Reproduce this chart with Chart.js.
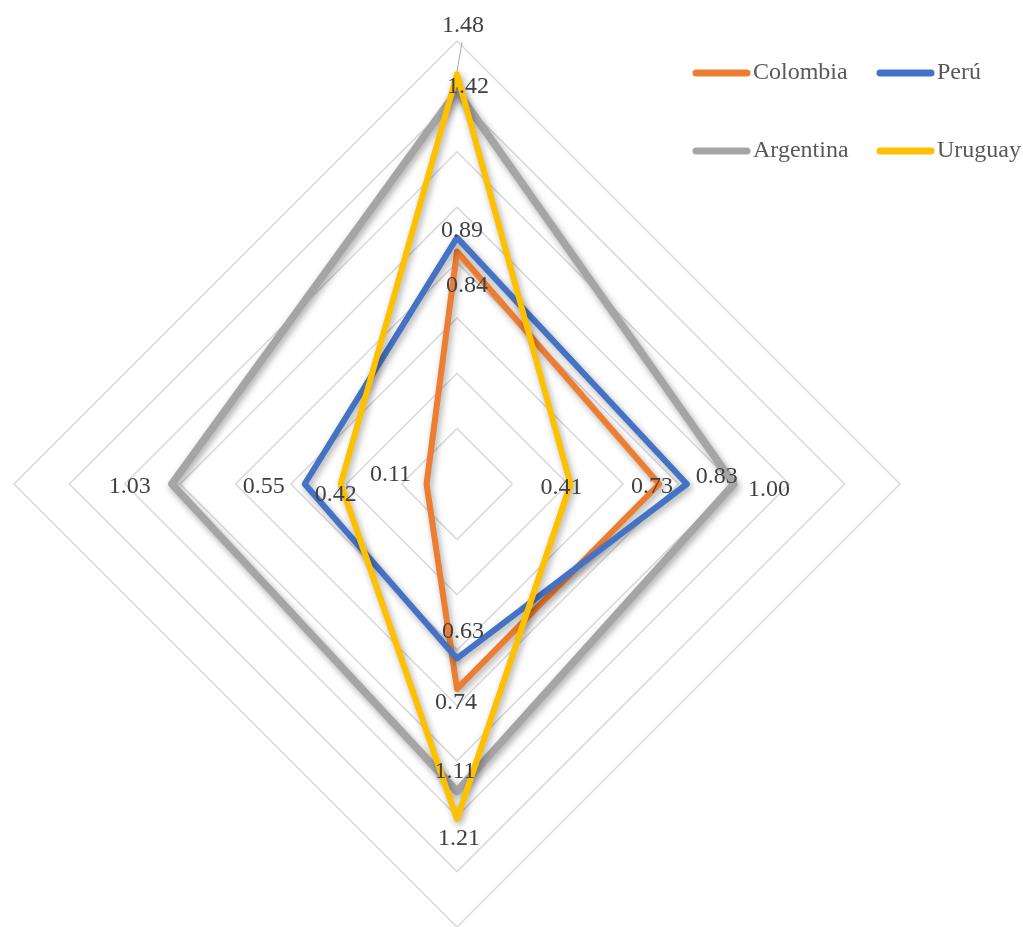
<!DOCTYPE html>
<html>
<head>
<meta charset="utf-8">
<script src="https://cdn.jsdelivr.net/npm/chart.js@4/dist/chart.umd.min.js"></script>
<style>
  html, body { margin: 0; padding: 0; background: #ffffff; }
  #wrap { width: 1023px; height: 927px; position: relative; }
</style>
</head>
<body>
<div id="wrap"><canvas id="radar" width="1023" height="927"></canvas></div>
<script>
// Axes run clockwise from the top: I (top), II (right), III (bottom), IV (left)
const categories = ['I', 'II', 'III', 'IV'];
const seriesNames = ['Colombia', 'Perú', 'Argentina', 'Uruguay'];
const colombia = [0.84, 0.73, 0.74, 0.11];
const peru = [0.89, 0.83, 0.63, 0.55];
const argentina = [1.42, 1.00, 1.11, 1.03];
const uruguay = [1.48, 0.41, 1.21, 0.42];
const scaleMin = 0;
const scaleMax = 1.6;
const scaleStep = 0.2;

const seriesColors = ['#ED7D31', '#4472C4', '#A5A5A5', '#FFC000'];
const seriesWidths = [6, 6, 7.5, 6];

// Where each value label sits relative to its vertex (dx, dy to text centre)
const labelOffsets = [
  [[10, 34], [-7, 3], [-1, 14], [-36, -9]],
  [[5, -7], [30, -7], [6, -27], [-41, 3]],
  [[11, -4], [35, 6], [-2, -20], [-42, 3]],
  [[6, -49], [-9, 4], [2, 20], [-5, 11]]
];
// Labels pushed this far from their vertex get a thin leader line
const leaderDistance = 45;

const serifFont = '"Liberation Serif", "Times New Roman", serif';

const seriesData = [colombia, peru, argentina, uruguay];
const datasets = seriesData.map((values, i) => ({
  label: seriesNames[i],
  data: values,
  borderColor: seriesColors[i],
  backgroundColor: seriesColors[i],
  borderWidth: seriesWidths[i],
  borderJoinStyle: 'round',
  fill: false,
  tension: 0,
  pointRadius: 0,
  pointHoverRadius: 0,
  order: seriesData.length - i
}));

// Soft drop shadow under each series line
const lineShadow = {
  id: 'lineShadow',
  beforeDatasetDraw(chart) {
    const ctx = chart.ctx;
    ctx.save();
    ctx.shadowColor = 'rgba(0,0,0,0.35)';
    ctx.shadowBlur = 7;
    ctx.shadowOffsetX = 2;
    ctx.shadowOffsetY = 3;
  },
  afterDatasetDraw(chart) {
    chart.ctx.restore();
  }
};

// Value labels next to every vertex
const valueLabels = {
  id: 'valueLabels',
  afterDatasetsDraw(chart) {
    const ctx = chart.ctx;
    ctx.save();
    ctx.font = '24px ' + serifFont;
    ctx.textAlign = 'center';
    ctx.textBaseline = 'middle';
    chart.data.datasets.forEach((ds, di) => {
      const meta = chart.getDatasetMeta(di);
      meta.data.forEach((pt, i) => {
        const [dx, dy] = labelOffsets[di][i];
        const tx = pt.x + dx;
        const ty = pt.y + dy;
        if (Math.hypot(dx, dy) > leaderDistance) {
          ctx.strokeStyle = '#A6A6A6';
          ctx.lineWidth = 1;
          ctx.beginPath();
          ctx.moveTo(tx - 1, ty + 17);
          ctx.lineTo(pt.x, pt.y - 3);
          ctx.stroke();
        }
        ctx.fillStyle = '#404040';
        ctx.fillText(ds.data[i].toFixed(2), tx, ty);
      });
    });
    ctx.restore();
  }
};

// Two-by-two legend in the upper right corner
const gridLegend = {
  id: 'gridLegend',
  afterDraw(chart) {
    const ctx = chart.ctx;
    const cols = [693, 877];
    const rows = [73, 151];
    const swatch = 57;
    ctx.save();
    ctx.font = '24px ' + serifFont;
    ctx.textAlign = 'left';
    ctx.textBaseline = 'middle';
    chart.data.datasets.forEach((ds, i) => {
      const x = cols[i % 2];
      const y = rows[Math.floor(i / 2)];
      ctx.strokeStyle = ds.borderColor;
      ctx.lineWidth = 7;
      ctx.lineCap = 'round';
      ctx.beginPath();
      ctx.moveTo(x + 3, y);
      ctx.lineTo(x + swatch - 3, y);
      ctx.stroke();
      ctx.fillStyle = '#595959';
      ctx.fillText(ds.label, x + swatch + 3, y);
    });
    ctx.restore();
  }
};

new Chart(document.getElementById('radar'), {
  type: 'radar',
  data: { labels: categories, datasets },
  options: {
    responsive: false,
    animation: false,
    layout: { padding: { left: 14, right: 123, top: 41, bottom: 0 } },
    plugins: {
      legend: { display: false },
      tooltip: { enabled: false },
      title: { display: false }
    },
    elements: { line: { borderCapStyle: 'round' } },
    scales: {
      r: {
        min: scaleMin,
        max: scaleMax,
        ticks: { stepSize: scaleStep, display: false },
        pointLabels: { display: false },
        angleLines: { display: false },
        grid: { circular: false, color: '#D9D9D9', lineWidth: 1.5 }
      }
    }
  },
  plugins: [lineShadow, valueLabels, gridLegend]
});
</script>
</body>
</html>
